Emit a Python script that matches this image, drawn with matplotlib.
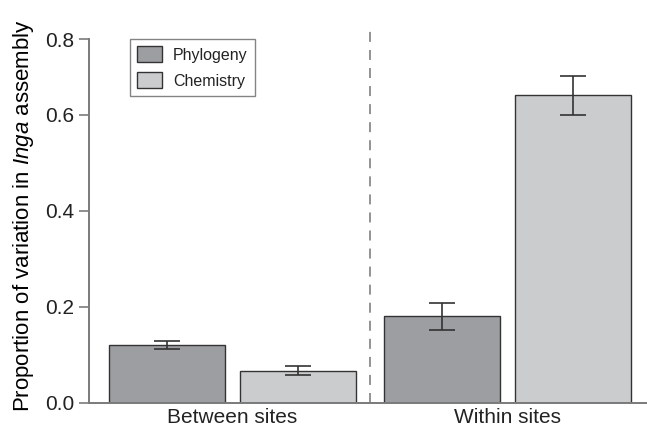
import matplotlib
matplotlib.use("Agg")
import matplotlib.pyplot as plt
import numpy as np

# ---- data ----
groups = ["Between sites", "Within sites"]
series = ["Phylogeny", "Chemistry"]
phylogeny = [0.120, 0.180]
phylogeny_err = [0.0075, 0.028]
chemistry = [0.067, 0.640]
chemistry_err = [0.010, 0.041]
ytick_vals = [0.0, 0.2, 0.4, 0.6, 0.757]
ytick_labels = ["0.0", "0.2", "0.4", "0.6", "0.8"]

plt.rcParams["font.family"] = ["Liberation Sans", "DejaVu Sans"]
plt.rcParams["mathtext.fontset"] = "custom"
plt.rcParams["mathtext.rm"] = "Liberation Sans"
plt.rcParams["mathtext.it"] = "Liberation Sans:italic"
plt.rcParams["lines.scale_dashes"] = False
plt.rcParams["text.color"] = "#222222"
plt.rcParams["xtick.labelcolor"] = "#222222"
plt.rcParams["ytick.labelcolor"] = "#222222"

W, H = 647, 428
fig = plt.figure(figsize=(W / 100, H / 100), dpi=100)
left, bottom_px, top_px = 89, 402.7, 39.3
ax = fig.add_axes([left / W, 1 - bottom_px / H, 1 - left / W, (bottom_px - top_px) / H])

spine_col = "#7a7a7a"
edge_col = "#333333"
c_phy = "#9d9ea2"
c_chem = "#cbccce"

x = np.arange(len(groups))
w = 0.4214
off = 0.238
ax.bar(x - off, phylogeny, w, color=c_phy, edgecolor=edge_col, linewidth=1.0,
       label=series[0], zorder=2)
ax.bar(x + off, chemistry, w, color=c_chem, edgecolor=edge_col, linewidth=1.0,
       label=series[1], zorder=2)
ekw = dict(fmt="none", ecolor=edge_col, elinewidth=1.2, capsize=9.4, capthick=1.2, zorder=3)
ax.errorbar(x - off, phylogeny, yerr=phylogeny_err, **ekw)
ax.errorbar(x + off, chemistry, yerr=chemistry_err, **ekw)

ax.set_xlim(-0.521, 1.506)
ax.set_ylim(0, 0.757)

# dashed separator
ax.plot([0.5, 0.5], [0, 0.781], color="#8a8a8a", lw=1.3,
        linestyle=(0, (7.2, 5.8)), clip_on=False, zorder=1)

for s in ["top", "right"]:
    ax.spines[s].set_visible(False)
for s in ["left", "bottom"]:
    ax.spines[s].set_color(spine_col)
    ax.spines[s].set_linewidth(1.4)

ax.set_yticks(ytick_vals)
ax.set_yticklabels(ytick_labels, fontsize=15)
ax.tick_params(axis="y", direction="out", length=7, width=1.2, color=spine_col, pad=3.5)
ax.set_xticks(x)
ax.set_xticklabels(groups, fontsize=15)
ax.tick_params(axis="x", length=0, pad=4)

ax.set_ylabel(r"Proportion of variation in $\mathit{Inga}$ assembly", fontsize=16)
ax.yaxis.set_label_coords(-0.095, 0.515)

leg = ax.legend(loc="upper left", bbox_to_anchor=(0.0735, 1.0), borderaxespad=0,
                fontsize=11.5, frameon=True, fancybox=False, handlelength=1.55,
                handleheight=1.15, handletextpad=0.7, labelspacing=0.6,
                borderpad=0.45)
leg.get_frame().set_edgecolor("#666666")
leg.get_frame().set_linewidth(1.0)

fig.savefig("out.png", dpi=100)
